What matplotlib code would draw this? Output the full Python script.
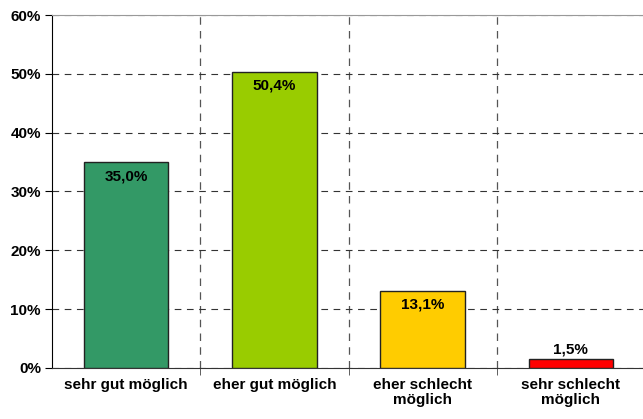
import matplotlib.pyplot as plt
from matplotlib.ticker import FixedLocator, PercentFormatter

plt.rcParams['font.family'] = ['Liberation Sans', 'DejaVu Sans']

# data
categories = ['sehr gut möglich', 'eher gut möglich', 'eher schlecht\nmöglich', 'sehr schlecht\nmöglich']
values = [35.0, 50.4, 13.1, 1.5]
colors = ['#339966', '#99CC00', '#FFCC00', '#FF0000']
labels = ['35,0%', '50,4%', '13,1%', '1,5%']

fig = plt.figure(figsize=(6.43, 4.19), dpi=100)
ax = fig.add_axes([0.081, 0.122, 0.922, 0.842])

x = range(len(categories))
ax.bar(x, values, width=0.57, color=colors, edgecolor='#222222', linewidth=1, zorder=3)

for xi, v, lab in zip(x, values, labels):
    if v > 5:
        ax.annotate(lab, (xi, v), xytext=(0, -5), textcoords='offset points',
                    ha='center', va='top', fontsize=11, fontweight='bold', zorder=4)
    else:
        ax.annotate(lab, (xi, v), xytext=(0, 2), textcoords='offset points',
                    ha='center', va='bottom', fontsize=11, fontweight='bold', zorder=4)

ax.set_xlim(-0.5, 3.5)
ax.set_ylim(0, 60)
ax.set_yticks(range(0, 61, 10))
ax.yaxis.set_major_formatter(PercentFormatter(decimals=0))
ax.set_xticks(list(x))
ax.set_xticklabels(categories, fontsize=11, fontweight='bold', linespacing=1.15)
ax.xaxis.set_minor_locator(FixedLocator([0.5, 1.5, 2.5]))
ax.tick_params(axis='x', which='major', length=0, pad=7)
ax.tick_params(axis='x', which='minor', length=5, color='#444444')
ax.tick_params(axis='y', length=5, labelsize=11, pad=3)
for t in ax.get_yticklabels():
    t.set_fontweight('bold')

ax.grid(axis='y', which='major', linestyle=(0, (6, 5)), color='#333333', linewidth=0.8, zorder=0)
ax.grid(axis='x', which='minor', linestyle=(0, (6, 5)), color='#555555', linewidth=0.9, zorder=0)

ax.spines['right'].set_visible(False)
ax.spines['top'].set_color('#999999')
ax.spines['left'].set_color('black')
ax.spines['bottom'].set_color('#333333')

fig.savefig('out.png', dpi=100)
